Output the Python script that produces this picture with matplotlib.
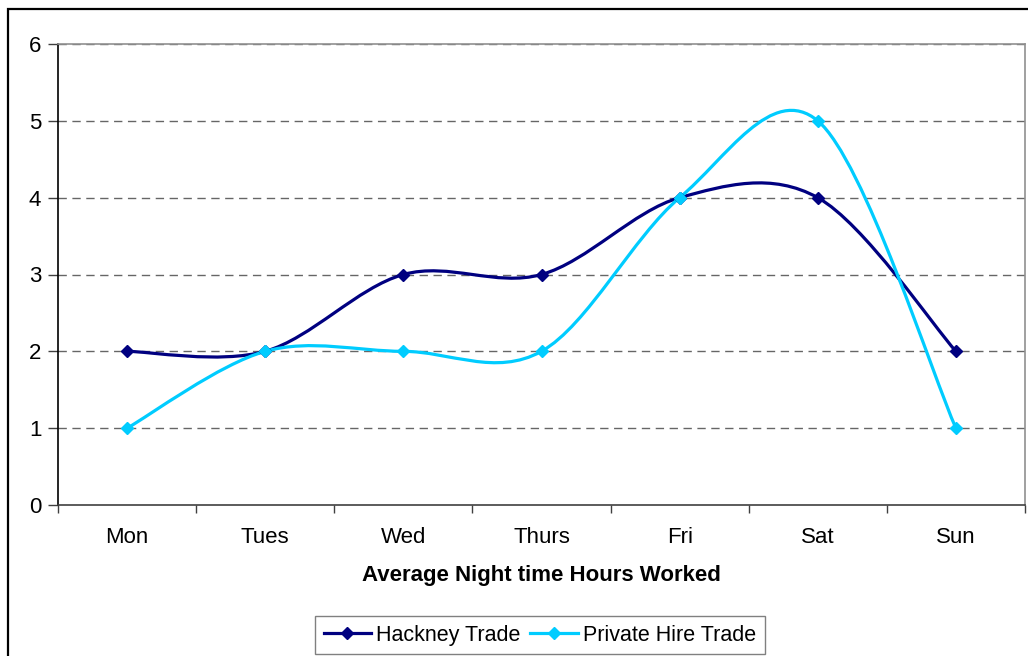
import matplotlib.pyplot as plt
import numpy as np
from matplotlib.path import Path
from matplotlib.patches import PathPatch, Rectangle
from matplotlib.lines import Line2D

plt.rcParams['font.family'] = ['Liberation Sans', 'DejaVu Sans']

# chart data
days = ["Mon", "Tues", "Wed", "Thurs", "Fri", "Sat", "Sun"]
hackney = [2, 2, 3, 3, 4, 4, 2]
private_hire = [1, 2, 2, 2, 4, 5, 1]

HACKNEY_COLOR = "#000080"
PRIVATE_COLOR = "#00CCFF"


def smooth_path(xs, ys):
    """Excel-style smoothed line: cubic Bezier segments through every point."""
    pts = np.column_stack([xs, ys]).astype(float)
    n = len(pts)
    verts = [pts[0]]
    codes = [Path.MOVETO]
    for i in range(n - 1):
        p0 = pts[i - 1] if i > 0 else pts[i]
        p1 = pts[i]
        p2 = pts[i + 1]
        p3 = pts[i + 2] if i + 2 < n else pts[i + 1]
        c1 = p1 + (p2 - p0) / 6.0
        c2 = p2 - (p3 - p1) / 6.0
        verts += [c1, c2, p2]
        codes += [Path.CURVE4] * 3
    return Path(verts, codes)


fig = plt.figure(figsize=(10.28, 6.56), dpi=100)
ax = fig.add_axes([58 / 1028, 1 - 505 / 656, 967 / 1028, 461 / 656])

# outer chart frame (runs off the right and bottom of the picture)
fig.patches.append(Rectangle((8 / 1028, -0.1), 1.2, 1 - 9 / 656 + 0.1,
                             transform=fig.transFigure, fill=False,
                             edgecolor="black", linewidth=1.6, clip_on=False))

x = np.arange(len(days))
for vals, color in [(hackney, HACKNEY_COLOR), (private_hire, PRIVATE_COLOR)]:
    ax.add_patch(PathPatch(smooth_path(x, vals), fill=False, edgecolor=color,
                           linewidth=2.3, zorder=3, capstyle="round",
                           joinstyle="round"))
    ax.plot(x, vals, linestyle="none", marker="D", markersize=6.5,
            color=color, zorder=4)

ax.set_xlim(-0.5, len(days) - 0.5)
ax.set_ylim(0, 6)
ax.set_yticks(range(0, 7))
ax.set_xticks(x)
ax.set_xticklabels(days)
ax.set_xticks(np.arange(-0.5, len(days)), minor=True)
ax.tick_params(axis="x", which="major", length=0, pad=16, labelsize=16)
ax.tick_params(axis="x", which="minor", length=6, direction="out",
               color="#404040", width=1)
ax.tick_params(axis="y", length=7, direction="out", pad=5, labelsize=16,
               color="#404040", width=1)

for y in range(1, 7):
    ax.axhline(y, color="#666666", linewidth=1, linestyle=(0, (6, 4)),
               zorder=1)

ax.spines["left"].set_color("black")
ax.spines["bottom"].set_color("#404040")
ax.spines["top"].set_color("#909090")
ax.spines["right"].set_color("#909090")
for s in ax.spines.values():
    s.set_linewidth(1.2)

ax.set_xlabel("Average Night time Hours Worked", fontsize=16,
              fontweight="bold", labelpad=12)

handles = [
    Line2D([], [], color=HACKNEY_COLOR, linewidth=2.3, marker="D",
           markersize=6.5),
    Line2D([], [], color=PRIVATE_COLOR, linewidth=2.3, marker="D",
           markersize=6.5),
]
fig.legend(handles, ["Hackney Trade", "Private Hire Trade"],
           loc="upper left", bbox_to_anchor=(315 / 1028, 1 - 616 / 656),
           ncol=2, fontsize=15.5, frameon=True, fancybox=False,
           edgecolor="#606060", handlelength=2.2, handletextpad=0.25,
           columnspacing=0.45, borderpad=0.4, borderaxespad=0)

fig.savefig("out.png", dpi=100)
